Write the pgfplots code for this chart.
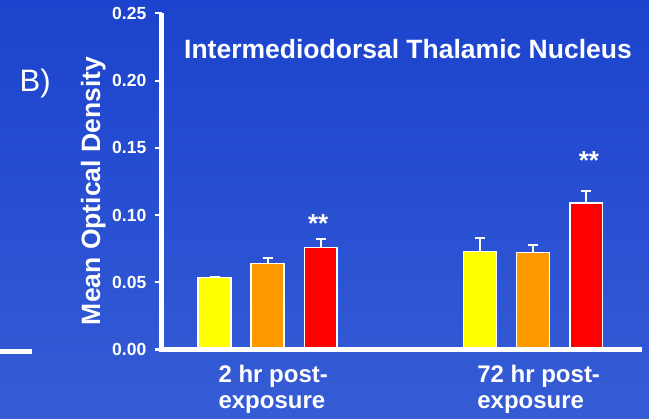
\documentclass[border=0pt]{standalone}
\usepackage{pgfplots}
\pgfplotsset{compat=1.18}
\usepackage{fontspec}
\setmainfont{Liberation Sans}

\definecolor{bgtop}{RGB}{27,67,205}
\definecolor{bgbot}{RGB}{54,92,213}
\definecolor{baryellow}{RGB}{255,255,0}
\definecolor{barorange}{RGB}{255,153,0}
\definecolor{barred}{RGB}{255,0,0}

\pgfplotsset{
  errwhite/.style={
    error bars/.cd, y dir=plus, y explicit,
    error bar style={white, line width=2bp},
    error mark options={white, line width=2bp, mark size=5bp, rotate=90}},
}

\begin{document}
\begin{tikzpicture}
\shade[top color=bgtop, bottom color=bgbot] (0bp,0bp) rectangle (649bp,419bp);
\useasboundingbox (0bp,0bp) rectangle (649bp,419bp);
\draw[white, line width=5bp] (0bp,67.7bp) -- (32bp,67.7bp);
\node[white, anchor=base west, inner sep=0pt, font=\fontsize{31bp}{36bp}\selectfont] at (19.5bp,327bp) {B)};
\node[white, anchor=base, inner sep=0pt, rotate=90, font=\fontsize{26.5bp}{30bp}\selectfont\bfseries] at (100bp,228bp) {Mean Optical Density};
\node[white, anchor=base, inner sep=0pt, font=\fontsize{26.5bp}{30bp}\selectfont\bfseries] at (408bp,360.7bp) {Intermediodorsal Thalamic Nucleus};

\begin{axis}[
  at={(161.5bp,69.5bp)}, anchor=south west,
  scale only axis, width=480.5bp, height=336bp,
  xmin=0, xmax=9.05, ymin=0, ymax=0.25,
  clip=false,
  axis lines*=left,
  axis line style={draw=none},
  ybar, bar shift=0pt, bar width=0.62,
  xtick={2,7},
  xticklabels={2 hr post-\\exposure, 72 hr post-\\exposure},
  ytick={0,0.05,0.1,0.15,0.2,0.25},
  tick align=outside,
  major tick length=7bp,
  ytick style={white, line width=2bp},
  xtick style={draw=none},
  xticklabel style={white, align=left, inner sep=0pt, yshift=-8.5bp, xshift=5.5bp,
    font=\fontsize{24bp}{25.5bp}\selectfont\bfseries},
  yticklabel style={white, inner sep=0pt, xshift=-8bp,
    font=\fontsize{17.5bp}{20bp}\selectfont\bfseries},
  /pgf/number format/.cd, fixed, fixed zerofill, precision=2, assume math mode=true,
]
% yellow
\addplot[fill=baryellow, draw=white, line width=1.5bp, errwhite]
coordinates {
  (1,0.0537) +- (0,0.0005)
  (6,0.0730) +- (0,0.0097)
};
% orange
\addplot[fill=barorange, draw=white, line width=1.5bp, errwhite]
coordinates {
  (2,0.0641) +- (0,0.0037)
  (7,0.0723) +- (0,0.0052)
};
% red
\addplot[fill=barred, draw=white, line width=1.5bp, errwhite]
coordinates {
  (3,0.0760) +- (0,0.0062)
  (8,0.1090) +- (0,0.0092)
};
% axis lines
\draw[white, line width=4.5bp] (rel axis cs:0,1) -- (rel axis cs:0,0) -- (rel axis cs:1,0);
\node[white, anchor=base, inner sep=0pt, font=\fontsize{26bp}{26bp}\selectfont\bfseries] at (axis cs:2.95,0.0870) {**};
\node[white, anchor=base, inner sep=0pt, font=\fontsize{26bp}{26bp}\selectfont\bfseries] at (axis cs:8.05,0.1340) {**};
\end{axis}
\end{tikzpicture}
\end{document}
